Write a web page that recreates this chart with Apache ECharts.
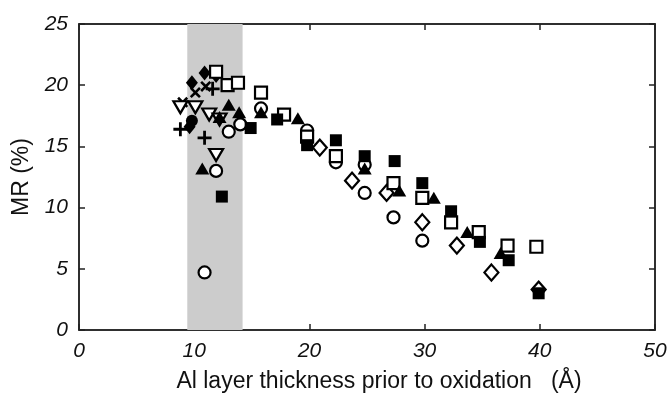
<!DOCTYPE html>
<html lang="en">
<head>
	<meta charset="UTF-8">
	<title>MR vs Al thickness</title>
	<script src="https://cdn.jsdelivr.net/npm/echarts@6/dist/echarts.min.js"></script>
	<style>
		body { margin: 0; background: #fff; }
	</style>
</head>
<body>
	<div id="chart" style="width: 670px;height: 396px;"></div>
	<script>
		// [Al thickness (A), MR (%)]
		var filledSquare = [[12.4, 10.9], [14.9, 16.5], [17.2, 17.2], [19.8, 15.1], [22.3, 15.5], [24.8, 14.2], [27.4, 13.8], [29.8, 12.0], [32.3, 9.7], [34.8, 7.2], [37.3, 5.7], [39.9, 3.0]];
		var openSquare = [[11.9, 21.1], [12.9, 20.0], [13.8, 20.2], [15.8, 19.4], [17.8, 17.6], [19.8, 15.8], [22.3, 14.2], [27.3, 12.0], [29.8, 10.8], [32.3, 8.8], [34.7, 8.0], [37.2, 6.9], [39.7, 6.8]];
		var filledTriangle = [[10.7, 13.2], [13.0, 18.4], [13.9, 17.8], [15.8, 17.8], [19.0, 17.3], [24.8, 13.2], [27.8, 11.4], [30.8, 10.8], [33.7, 8.0], [36.6, 6.3], [12.2, 17.4]];
		var openCircle = [[10.9, 4.7], [11.9, 13.0], [13.0, 16.2], [14.0, 16.8], [15.8, 18.1], [19.8, 16.3], [22.3, 13.7], [24.8, 13.5], [24.8, 11.2], [27.3, 9.2], [29.8, 7.3]];
		var openDiamond = [[20.9, 14.9], [23.7, 12.2], [26.7, 11.2], [29.8, 8.8], [32.8, 6.9], [35.8, 4.7], [39.9, 3.3]];
		var filledDiamond = [[9.8, 20.2], [10.9, 21.0], [11.9, 20.8], [9.6, 16.6]];
		var filledCircle = [[9.8, 17.1]];
		var crossPts = [[9.0, 18.6], [10.1, 19.4], [11.0, 19.9]];
		var plusPts = [[8.8, 16.4], [10.9, 15.7], [11.6, 19.7]];
		var downTriangle = [[8.8, 18.2], [10.1, 18.2], [11.3, 17.6], [11.9, 14.3], [12.2, 17.2]];
		var band = [9.4, 14.2];

		var plusPath = 'path://M4,0H6V4H10V6H6V10H4V6H0V4H4Z';
		var font = '"Liberation Sans", Arial, sans-serif';

		function filled(name, data, symbol, size, rot) {
			return {
				name: name, type: 'scatter', data: data, symbol: symbol, symbolSize: size,
				symbolRotate: rot || 0, z: 3,
				itemStyle: { color: '#000', opacity: 1 }
			};
		}
		function open(name, data, symbol, size, rot) {
			return {
				name: name, type: 'scatter', data: data, symbol: symbol, symbolSize: size,
				symbolRotate: rot || 0, z: 3,
				itemStyle: { color: '#fff', borderColor: '#000', borderWidth: 2.2, opacity: 1 }
			};
		}

		var axisBase = {
			min: 0,
			axisLine: { show: true, onZero: false, lineStyle: { color: '#222', width: 1.5 } },
			axisTick: { show: true, inside: true, length: 6, lineStyle: { color: '#222', width: 1.5 } },
			splitLine: { show: false }
		};

		var option = {
			backgroundColor: '#fff',
			animation: false,
			grid: {
				left: 79, right: 15, top: 24, bottom: 66, containLabel: false, outerBoundsMode: 'none',
				show: true, borderColor: '#222', borderWidth: 1.5, backgroundColor: 'transparent'
			},
			xAxis: [
				Object.assign({}, axisBase, {
					type: 'value', max: 50, interval: 10, position: 'bottom',
					name: 'Al layer thickness prior to oxidation   (\u00c5)',
					nameLocation: 'middle', nameGap: 40,
					nameTextStyle: { fontFamily: font, fontSize: 23, color: '#111', padding: [0, 0, 0, 24] },
					axisLabel: { fontFamily: font, fontSize: 21, fontStyle: 'italic', color: '#111', margin: 11 }
				}),
				Object.assign({}, axisBase, {
					type: 'value', max: 50, interval: 10, position: 'top',
					axisLabel: { show: false }
				})
			],
			yAxis: [
				Object.assign({}, axisBase, {
					type: 'value', max: 25, interval: 5, position: 'left',
					name: 'MR (%)', nameLocation: 'middle', nameGap: 46,
					nameTextStyle: { fontFamily: font, fontSize: 23, color: '#111' },
					axisLabel: { fontFamily: font, fontSize: 21, fontStyle: 'italic', color: '#111', margin: 11 }
				}),
				Object.assign({}, axisBase, {
					type: 'value', max: 25, interval: 5, position: 'right',
					axisLabel: { show: false }
				})
			],
			series: [
				{
					type: 'scatter', data: [], z: 1,
					markArea: {
						silent: true,
						itemStyle: { color: '#cccccc' },
						data: [[{ xAxis: band[0], yAxis: 0 }, { xAxis: band[1], yAxis: 25 }]]
					}
				},
				filled('filledDiamond', filledDiamond, 'diamond', [12, 15]),
				filled('filledCircle', filledCircle, 'circle', 12),
				filled('cross', crossPts, plusPath, 13, 45),
				filled('plus', plusPts, plusPath, 14),
				open('downTriangle', downTriangle, 'triangle', [14, 12], 180),
				open('openCircle', openCircle, 'circle', 12),
				open('openDiamond', openDiamond, 'diamond', [14, 16]),
				open('openSquare', openSquare, 'rect', 12),
				filled('filledSquare', filledSquare, 'rect', 12),
				filled('filledTriangle', filledTriangle, 'triangle', [14, 12])
			]
		};

		var myChart = echarts.init(document.getElementById('chart'));
		myChart.setOption(option);
	</script>
</body>
</html>
